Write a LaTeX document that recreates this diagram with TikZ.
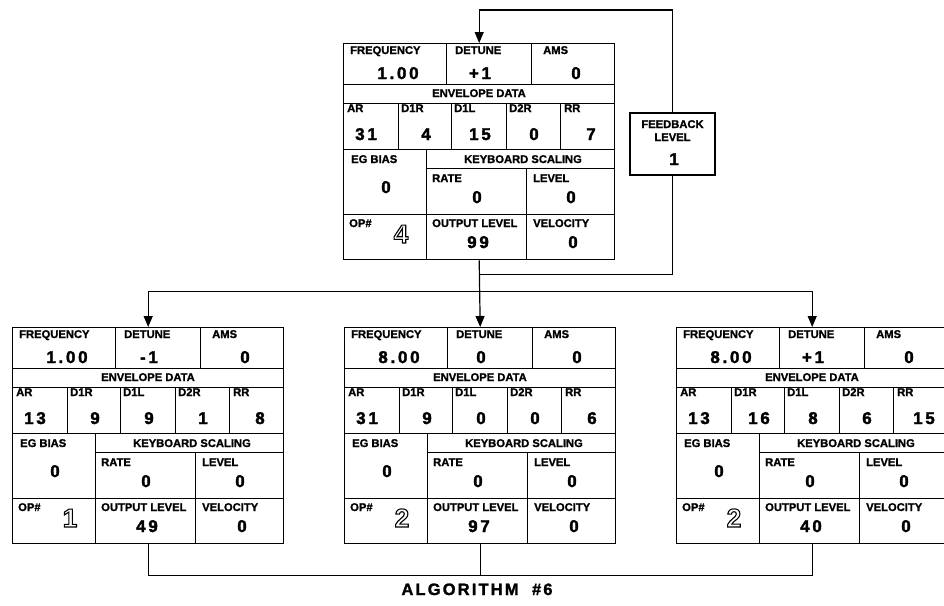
\documentclass[tikz,border=0pt]{standalone}
\usepackage{fontspec}
\setmainfont{Liberation Sans}
\usetikzlibrary{arrows.meta,calc}
\newcommand\outlinedigit[1]{\rlap{\textcolor{white}{.}}\special{pdf:literal direct 1 Tr 1.1 w}#1\special{pdf:literal direct 0 Tr}}
\tikzset{
  x=1pt, y=-1pt,
  lbl/.style={font=\fontsize{11.2}{12}\selectfont\bfseries\addfontfeature{FakeBold=1.2}, inner sep=0pt, anchor=base west},
  hdr/.style={font=\fontsize{11.2}{12}\selectfont\bfseries\addfontfeature{FakeBold=1.2}, inner sep=0pt, anchor=base},
  val/.style={font=\fontsize{17}{20}\selectfont\bfseries\addfontfeature{LetterSpace=16,FakeBold=2}, inner sep=0pt, anchor=base},
  opnum/.style={font=\fontsize{26}{28}\selectfont\bfseries, inner sep=0pt, anchor=base},
  opframe/.style={draw, line width=1.4pt, minimum width=271pt, minimum height=216pt, inner sep=0pt, anchor=north west},
  cellline/.style={line width=0.9pt},
  conn/.style={line width=1.2pt},
  arr/.style={conn, -{Triangle[width=9pt,length=11pt]}},
  fbbox/.style={draw, line width=1.3pt, minimum width=85pt, minimum height=62pt, inner sep=0pt},
  title/.style={font=\fontsize{16.5}{18}\selectfont\bfseries\addfontfeature{LetterSpace=13,FakeBold=1.5}, inner sep=0pt, anchor=base},
}
\newcommand\opgrid{%
  \node[opframe] (box) at (0,0) {};
  \draw[cellline] (0,41) -- (271,41) (0,60) -- (271,60) (0,106) -- (271,106)
     (83,125) -- (271,125) (0,171) -- (271,171);
  \draw[cellline] (103,0) -- (103,41) (188,0) -- (188,41);
  \draw[cellline] (55,60) -- (55,106) (108,60) -- (108,106) (163,60) -- (163,106) (217,60) -- (217,106);
  \draw[cellline] (83,106) -- (83,216) (183,125) -- (183,216);
  \node[lbl] (lfreq) at (7,11) {FREQUENCY};
  \node[lbl] (ldet) at (112,11) {DETUNE};
  \node[lbl] (lams) at (200,11) {AMS};
  \node[hdr] (lenv) at (136,54) {ENVELOPE DATA};
  \node[lbl] (lar) at (4,69) {AR};
  \node[lbl] (ld1r) at (58,69) {D1R};
  \node[lbl] (ld1l) at (111,69) {D1L};
  \node[lbl] (ld2r) at (166,69) {D2R};
  \node[lbl] (lrr) at (221,69) {RR};
  \node[lbl] (leg) at (8,120) {EG BIAS};
  \node[hdr] (lks) at (180,120) {KEYBOARD SCALING};
  \node[lbl] (lrate) at (89,139) {RATE};
  \node[lbl] (llev) at (190,139) {LEVEL};
  \node[lbl] (lop) at (6,184) {OP\#};
  \node[lbl] (lout) at (89,184) {OUTPUT LEVEL};
  \node[lbl] (lvel) at (190,184) {VELOCITY};
}
% freq, detune, ams, ar, d1r, d1l, d2r, rr, egbias
\newcommand\opvalsA[9]{%
  \node[val] (vfreq) at (55,36) {#1};
  \node[val] (vdet) at (137,36) {#2};
  \node[val] (vams) at (233,36) {#3};
  \node[val] (var) at (23,97) {#4};
  \node[val] (vd1r) at (83,97) {#5};
  \node[val] (vd1l) at (137,97) {#6};
  \node[val] (vd2r) at (191,97) {#7};
  \node[val] (vrr) at (248,97) {#8};
  \node[val] (veg) at (43,150) {#9};
}
% rate, level, op, outlevel, velocity
\newcommand\opvalsB[5]{%
  \node[val] (vrate) at (134,160) {#1};
  \node[val] (vlev) at (228,160) {#2};
  \node[opnum] (vop) at (58,200) {\outlinedigit{#3}};
  \node[val] (vout) at (135,205) {#4};
  \node[val] (vvel) at (230,205) {#5};
}
\begin{document}
\begin{tikzpicture}
\useasboundingbox[fill=white] (0,0) rectangle (944,605);
\begin{scope}[shift={(343,43)}, name prefix=op4-]
  \opgrid
  \opvalsA{1.00}{+1}{0}{31}{4}{15}{0}{7}{0}
  \opvalsB{0}{0}{4}{99}{0}
\end{scope}
\begin{scope}[shift={(12,327)}, name prefix=op1-]
  \opgrid
  \opvalsA{1.00}{-1}{0}{13}{9}{9}{1}{8}{0}
  \opvalsB{0}{0}{1}{49}{0}
\end{scope}
\begin{scope}[shift={(344,327)}, name prefix=op2-]
  \opgrid
  \opvalsA{8.00}{0}{0}{31}{9}{0}{0}{6}{0}
  \opvalsB{0}{0}{2}{97}{0}
\end{scope}
\begin{scope}[shift={(676,327)}, name prefix=op3-]
  \opgrid
  \opvalsA{8.00}{+1}{0}{13}{16}{8}{6}{15}{0}
  \opvalsB{0}{0}{2}{40}{0}
\end{scope}
\node[fbbox] (fb) at (672.5,144) {};
\node[hdr] (fbl1) at (672.5,128) {FEEDBACK};
\node[hdr] (fbl2) at (672.5,141) {LEVEL};
\node[val] (fbv) at (674,165) {1};
\coordinate (tap) at ($(op4-box.south)+(0,14)$);
\coordinate (split) at ($(op4-box.south)+(0,31)$);
\coordinate (fbtop) at (672.5,10);
\coordinate (sum) at ($(op2-box.south)+(0,31)$);
\draw[conn] (tap) -| (fb.south);
\draw[arr] (fb.north) -- (fbtop) -| (op4-box.north);
\draw[arr] (op4-box.south) -- (op2-box.north);
\draw[arr] (split) -| (op1-box.north);
\draw[arr] (split) -| (op3-box.north);
\draw[conn] (op1-box.south) |- (sum) -| (op3-box.south);
\draw[conn] (op2-box.south) -- (sum);
\node[title] (algo) at (477,595) {ALGORITHM\ \ \#6};
\end{tikzpicture}
\end{document}
